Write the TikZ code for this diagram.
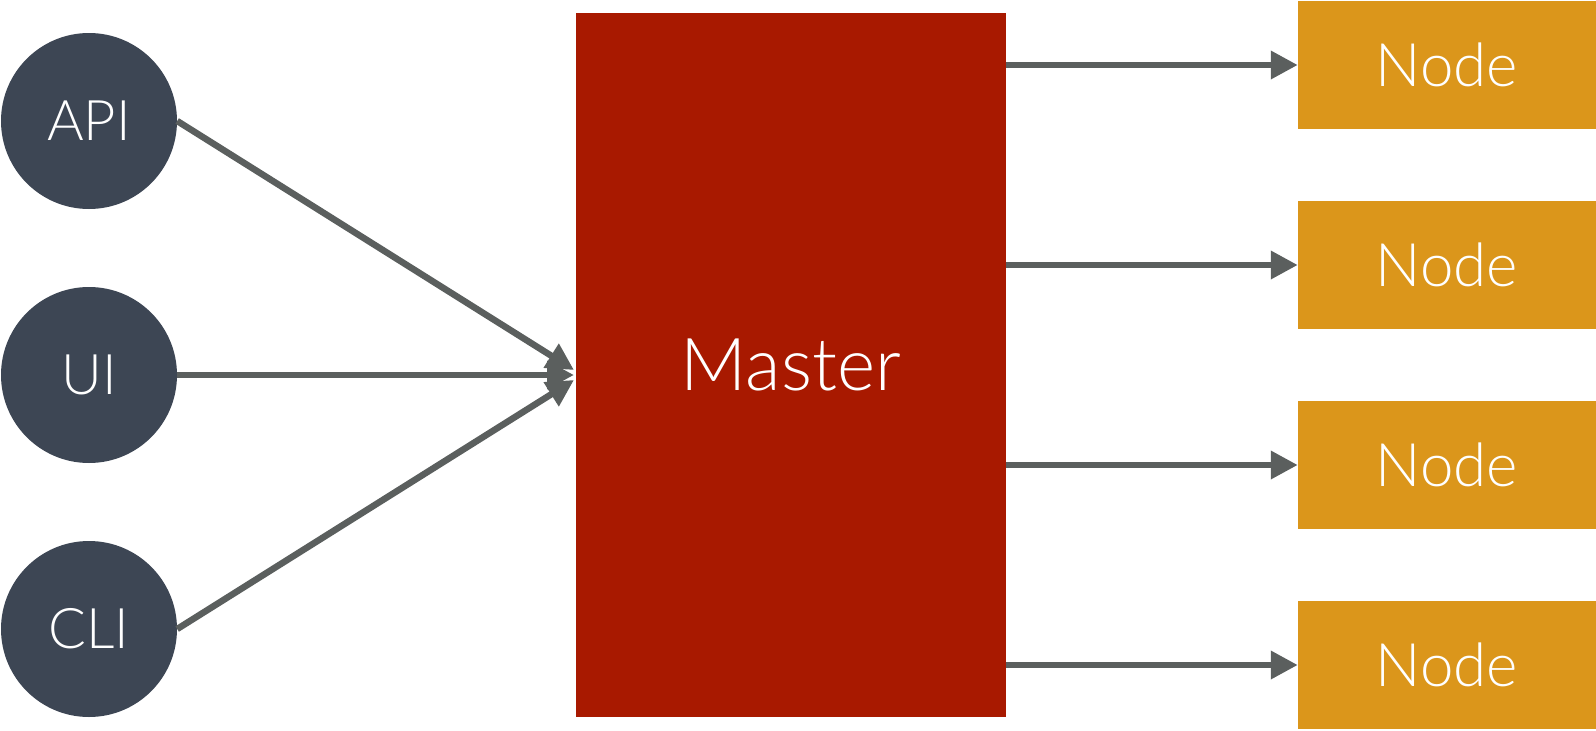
\documentclass[tikz,border=0pt]{standalone}
\usepackage{fontspec}
\setmainfont{Lato Light}
\usetikzlibrary{arrows.meta}
\definecolor{circ}{HTML}{3D4654}
\definecolor{mast}{HTML}{A81900}
\definecolor{nodec}{HTML}{DB961B}
\definecolor{arr}{HTML}{5B5F5E}
\begin{document}
\begin{tikzpicture}[x=1pt,y=-1pt,
  src/.style={circle,fill=circ,minimum size=176pt,inner sep=0pt,text=white,font=\fontsize{56}{60}\selectfont},
  worker/.style={rectangle,fill=nodec,minimum width=298pt,minimum height=128pt,inner sep=0pt,text=white,font=\fontsize{60}{64}\selectfont},
  link/.style={draw=arr,line width=6.5pt,-{Triangle[length=27pt,width=27pt]}}]
\useasboundingbox (0,0) rectangle (1596,731);
\node[src] (api) at (89,121) {API};
\node[src] (ui) at (89,375) {UI};
\node[src] (cli) at (89,629) {CLI};
\node[rectangle,fill=mast,minimum width=430pt,minimum height=704pt,inner sep=0pt,text=white,font=\fontsize{73}{77}\selectfont] (master) at (791,365) {Master};
\node[worker] (n1) at (1447,65) {Node};
\node[worker] (n2) at (1447,265) {Node};
\node[worker] (n3) at (1447,465) {Node};
\node[worker] (n4) at (1447,665) {Node};
\coordinate (ta) at (574,370);
\coordinate (tu) at (574,375);
\coordinate (tc) at (574,380);
\draw[link] (api.east) -- (ta);
\draw[link] (ui.east) -- (tu);
\draw[link] (cli.east) -- (tc);
\draw[link] (master.east |- n1) -- (n1.west);
\draw[link] (master.east |- n2) -- (n2.west);
\draw[link] (master.east |- n3) -- (n3.west);
\draw[link] (master.east |- n4) -- (n4.west);
\end{tikzpicture}
\end{document}
